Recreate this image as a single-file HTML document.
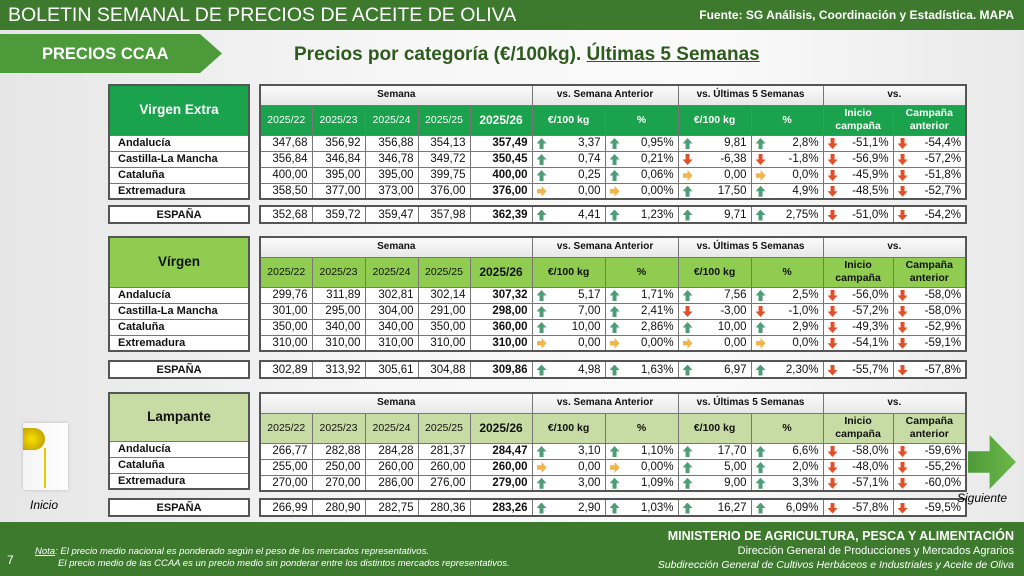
<!DOCTYPE html>
<html><head><meta charset="utf-8"><style>
*{margin:0;padding:0;box-sizing:border-box}
body{width:1024px;height:576px;position:relative;overflow:hidden;font-family:"Liberation Sans",sans-serif;background:linear-gradient(90deg,#e6e6e6 0%,#f7f7f7 40%,#fafafa 70%,#e9e9e9 100%)}
.abs{position:absolute}
table{border-collapse:collapse;position:absolute;table-layout:fixed;border:2px solid #555}
td{border:1px solid #777;font-size:11.5px;height:16px;padding:0 4px;text-align:right;color:#111;background:#fff;white-space:nowrap;line-height:14px}
td.b{font-weight:bold}
td.l{text-align:left;font-weight:bold;font-size:11px;padding-left:8px}
td.c{text-align:center;font-weight:bold;font-size:11px}
tr.h1 td{height:20px;background:linear-gradient(#fafafa,#e8e8e8);text-align:center;font-weight:bold;font-size:10px}
tr.h2 td{height:30px;text-align:center;font-size:10.5px;line-height:13px;padding:0 2px;white-space:normal}
.g1 tr.h2 td{background:#1aa24c;color:#fff}
.g2 tr.h2 td{background:#8fcc4f;color:#111}
.g3 tr.h2 td{background:#c6dca4;color:#111}
td.lab{font-size:13.5px;font-weight:bold;text-align:center;height:50px}
i{display:inline-block;width:10px;height:11px;float:left;margin-top:2px}
i.u{background:#4e9c78;clip-path:polygon(50% 0,100% 50%,70% 50%,70% 100%,30% 100%,30% 50%,0 50%)}
i.d{background:#e0502a;clip-path:polygon(50% 100%,100% 50%,70% 50%,70% 0,30% 0,30% 50%,0 50%)}
i.r{background:#f2b54a;clip-path:polygon(100% 50%,50% 0,50% 30%,0 30%,0 70%,50% 70%,50% 100%)}
</style></head><body>
<div class="abs" style="left:0;top:0;width:1024px;height:30px;background:#3e7a2e"></div>
<div class="abs" style="left:8px;top:4px;color:#fff;font-size:19.5px">BOLETIN SEMANAL DE PRECIOS DE ACEITE DE OLIVA</div>
<div class="abs" style="right:10px;top:8px;color:#fff;font-size:12px;font-weight:bold">Fuente: SG Análisis, Coordinación y Estadística. MAPA</div>
<div class="abs" style="left:0;top:34px;width:222px;height:39px;background:#4c9a3a;clip-path:polygon(0 0,200px 0,222px 50%,200px 100%,0 100%)"></div>
<div class="abs" style="left:42px;top:45px;color:#fff;font-size:16.5px;font-weight:bold">PRECIOS CCAA</div>
<div class="abs" style="left:294px;top:44px;color:#2e5a1e;font-size:19px;font-weight:bold">Precios por categoría (€/100kg). <u>Últimas 5 Semanas</u></div>

<!-- Block 1 -->
<table class="g1" style="left:108px;top:84px;width:142px">
<tr><td class="lab" style="background:#1aa24c;color:#fff">Virgen Extra</td></tr>
<tr><td class="l">Andalucía</td></tr><tr><td class="l">Castilla-La Mancha</td></tr><tr><td class="l">Cataluña</td></tr><tr><td class="l">Extremadura</td></tr></table>
<table class="g1" style="left:259px;top:84px;width:706px">
<colgroup><col style="width:52px"><col style="width:53px"><col style="width:53px"><col style="width:52px"><col style="width:62px"><col style="width:73px"><col style="width:73px"><col style="width:73px"><col style="width:72px"><col style="width:70px"><col style="width:73px"></colgroup>
<tr class="h1"><td colspan="5">Semana</td><td colspan="2">vs. Semana Anterior</td><td colspan="2">vs. Últimas 5 Semanas</td><td colspan="2">vs.</td></tr>
<tr class="h2"><td>2025/22</td><td>2025/23</td><td>2025/24</td><td>2025/25</td><td style="font-weight:bold;font-size:12px">2025/26</td><td><b>€/100 kg</b></td><td><b>%</b></td><td><b>€/100 kg</b></td><td><b>%</b></td><td><b>Inicio campaña</b></td><td><b>Campaña anterior</b></td></tr>
<tr><td>347,68</td><td>356,92</td><td>356,88</td><td>354,13</td><td class="b">357,49</td><td><i class="u"></i>3,37</td><td><i class="u"></i>0,95%</td><td><i class="u"></i>9,81</td><td><i class="u"></i>2,8%</td><td><i class="d"></i>-51,1%</td><td><i class="d"></i>-54,4%</td></tr>
<tr><td>356,84</td><td>346,84</td><td>346,78</td><td>349,72</td><td class="b">350,45</td><td><i class="u"></i>0,74</td><td><i class="u"></i>0,21%</td><td><i class="d"></i>-6,38</td><td><i class="d"></i>-1,8%</td><td><i class="d"></i>-56,9%</td><td><i class="d"></i>-57,2%</td></tr>
<tr><td>400,00</td><td>395,00</td><td>395,00</td><td>399,75</td><td class="b">400,00</td><td><i class="u"></i>0,25</td><td><i class="u"></i>0,06%</td><td><i class="r"></i>0,00</td><td><i class="r"></i>0,0%</td><td><i class="d"></i>-45,9%</td><td><i class="d"></i>-51,8%</td></tr>
<tr><td>358,50</td><td>377,00</td><td>373,00</td><td>376,00</td><td class="b">376,00</td><td><i class="r"></i>0,00</td><td><i class="r"></i>0,00%</td><td><i class="u"></i>17,50</td><td><i class="u"></i>4,9%</td><td><i class="d"></i>-48,5%</td><td><i class="d"></i>-52,7%</td></tr>
</table>
<table style="left:108px;top:205px;width:142px"><tr><td class="c" style="height:17px">ESPAÑA</td></tr></table>
<table style="left:259px;top:205px;width:706px">
<colgroup><col style="width:52px"><col style="width:53px"><col style="width:53px"><col style="width:52px"><col style="width:62px"><col style="width:73px"><col style="width:73px"><col style="width:73px"><col style="width:72px"><col style="width:70px"><col style="width:73px"></colgroup>
<tr><td style="height:17px">352,68</td><td>359,72</td><td>359,47</td><td>357,98</td><td class="b">362,39</td><td><i class="u"></i>4,41</td><td><i class="u"></i>1,23%</td><td><i class="u"></i>9,71</td><td><i class="u"></i>2,75%</td><td><i class="d"></i>-51,0%</td><td><i class="d"></i>-54,2%</td></tr></table>

<!-- Block 2 -->
<table class="g2" style="left:108px;top:236px;width:142px">
<tr><td class="lab" style="background:#8fcc4f">Vírgen</td></tr>
<tr><td class="l">Andalucía</td></tr><tr><td class="l">Castilla-La Mancha</td></tr><tr><td class="l">Cataluña</td></tr><tr><td class="l">Extremadura</td></tr></table>
<table class="g2" style="left:259px;top:236px;width:706px">
<colgroup><col style="width:52px"><col style="width:53px"><col style="width:53px"><col style="width:52px"><col style="width:62px"><col style="width:73px"><col style="width:73px"><col style="width:73px"><col style="width:72px"><col style="width:70px"><col style="width:73px"></colgroup>
<tr class="h1"><td colspan="5">Semana</td><td colspan="2">vs. Semana Anterior</td><td colspan="2">vs. Últimas 5 Semanas</td><td colspan="2">vs.</td></tr>
<tr class="h2"><td>2025/22</td><td>2025/23</td><td>2025/24</td><td>2025/25</td><td style="font-weight:bold;font-size:12px">2025/26</td><td><b>€/100 kg</b></td><td><b>%</b></td><td><b>€/100 kg</b></td><td><b>%</b></td><td><b>Inicio campaña</b></td><td><b>Campaña anterior</b></td></tr>
<tr><td>299,76</td><td>311,89</td><td>302,81</td><td>302,14</td><td class="b">307,32</td><td><i class="u"></i>5,17</td><td><i class="u"></i>1,71%</td><td><i class="u"></i>7,56</td><td><i class="u"></i>2,5%</td><td><i class="d"></i>-56,0%</td><td><i class="d"></i>-58,0%</td></tr>
<tr><td>301,00</td><td>295,00</td><td>304,00</td><td>291,00</td><td class="b">298,00</td><td><i class="u"></i>7,00</td><td><i class="u"></i>2,41%</td><td><i class="d"></i>-3,00</td><td><i class="d"></i>-1,0%</td><td><i class="d"></i>-57,2%</td><td><i class="d"></i>-58,0%</td></tr>
<tr><td>350,00</td><td>340,00</td><td>340,00</td><td>350,00</td><td class="b">360,00</td><td><i class="u"></i>10,00</td><td><i class="u"></i>2,86%</td><td><i class="u"></i>10,00</td><td><i class="u"></i>2,9%</td><td><i class="d"></i>-49,3%</td><td><i class="d"></i>-52,9%</td></tr>
<tr><td>310,00</td><td>310,00</td><td>310,00</td><td>310,00</td><td class="b">310,00</td><td><i class="r"></i>0,00</td><td><i class="r"></i>0,00%</td><td><i class="r"></i>0,00</td><td><i class="r"></i>0,0%</td><td><i class="d"></i>-54,1%</td><td><i class="d"></i>-59,1%</td></tr>
</table>
<table style="left:108px;top:360px;width:142px"><tr><td class="c" style="height:17px">ESPAÑA</td></tr></table>
<table style="left:259px;top:360px;width:706px">
<colgroup><col style="width:52px"><col style="width:53px"><col style="width:53px"><col style="width:52px"><col style="width:62px"><col style="width:73px"><col style="width:73px"><col style="width:73px"><col style="width:72px"><col style="width:70px"><col style="width:73px"></colgroup>
<tr><td style="height:17px">302,89</td><td>313,92</td><td>305,61</td><td>304,88</td><td class="b">309,86</td><td><i class="u"></i>4,98</td><td><i class="u"></i>1,63%</td><td><i class="u"></i>6,97</td><td><i class="u"></i>2,30%</td><td><i class="d"></i>-55,7%</td><td><i class="d"></i>-57,8%</td></tr></table>

<!-- Block 3 -->
<table class="g3" style="left:108px;top:392px;width:142px">
<tr><td class="lab" style="background:#c6dca4;height:48px">Lampante</td></tr>
<tr><td class="l">Andalucía</td></tr><tr><td class="l">Cataluña</td></tr><tr><td class="l">Extremadura</td></tr></table>
<table class="g3" style="left:259px;top:392px;width:706px">
<colgroup><col style="width:52px"><col style="width:53px"><col style="width:53px"><col style="width:52px"><col style="width:62px"><col style="width:73px"><col style="width:73px"><col style="width:73px"><col style="width:72px"><col style="width:70px"><col style="width:73px"></colgroup>
<tr class="h1"><td colspan="5">Semana</td><td colspan="2">vs. Semana Anterior</td><td colspan="2">vs. Últimas 5 Semanas</td><td colspan="2">vs.</td></tr>
<tr class="h2"><td style="height:28px">2025/22</td><td>2025/23</td><td>2025/24</td><td>2025/25</td><td style="font-weight:bold;font-size:12px">2025/26</td><td><b>€/100 kg</b></td><td><b>%</b></td><td><b>€/100 kg</b></td><td><b>%</b></td><td><b>Inicio campaña</b></td><td><b>Campaña anterior</b></td></tr>
<tr><td>266,77</td><td>282,88</td><td>284,28</td><td>281,37</td><td class="b">284,47</td><td><i class="u"></i>3,10</td><td><i class="u"></i>1,10%</td><td><i class="u"></i>17,70</td><td><i class="u"></i>6,6%</td><td><i class="d"></i>-58,0%</td><td><i class="d"></i>-59,6%</td></tr>
<tr><td>255,00</td><td>250,00</td><td>260,00</td><td>260,00</td><td class="b">260,00</td><td><i class="r"></i>0,00</td><td><i class="r"></i>0,00%</td><td><i class="u"></i>5,00</td><td><i class="u"></i>2,0%</td><td><i class="d"></i>-48,0%</td><td><i class="d"></i>-55,2%</td></tr>
<tr><td>270,00</td><td>270,00</td><td>286,00</td><td>276,00</td><td class="b">279,00</td><td><i class="u"></i>3,00</td><td><i class="u"></i>1,09%</td><td><i class="u"></i>9,00</td><td><i class="u"></i>3,3%</td><td><i class="d"></i>-57,1%</td><td><i class="d"></i>-60,0%</td></tr>
</table>
<table style="left:108px;top:498px;width:142px"><tr><td class="c" style="height:17px">ESPAÑA</td></tr></table>
<table style="left:259px;top:498px;width:706px">
<colgroup><col style="width:52px"><col style="width:53px"><col style="width:53px"><col style="width:52px"><col style="width:62px"><col style="width:73px"><col style="width:73px"><col style="width:73px"><col style="width:72px"><col style="width:70px"><col style="width:73px"></colgroup>
<tr><td style="height:17px">266,99</td><td>280,90</td><td>282,75</td><td>280,36</td><td class="b">283,26</td><td><i class="u"></i>2,90</td><td><i class="u"></i>1,03%</td><td><i class="u"></i>16,27</td><td><i class="u"></i>6,09%</td><td><i class="d"></i>-57,8%</td><td><i class="d"></i>-59,5%</td></tr></table>

<!-- bottle -->
<div class="abs" style="left:23px;top:423px;width:45px;height:67px;background:linear-gradient(90deg,#f4f4f4,#fff);box-shadow:0 0 3px #bbb"></div>
<div class="abs" style="left:23px;top:428px;width:22px;height:22px;background:radial-gradient(circle at 40% 50%,#f6e200,#b89000);border-radius:0 50% 50% 0"></div>
<div class="abs" style="left:44px;top:448px;width:2px;height:40px;background:#e8c800"></div>
<div class="abs" style="left:30px;top:498px;font-size:12px;font-style:italic">Inicio</div>
<!-- next arrow -->
<div class="abs" style="left:968px;top:435px;width:48px;height:54px;background:linear-gradient(90deg,#4e9a3a,#6cb84a);clip-path:polygon(0 30%,45% 30%,45% 0,100% 50%,45% 100%,45% 70%,0 70%)"></div>
<div class="abs" style="left:957px;top:491px;font-size:12px;font-style:italic">Siguiente</div>

<!-- footer -->
<div class="abs" style="left:0;top:522px;width:1024px;height:54px;background:#3e7a2e"></div>
<div class="abs" style="left:7px;top:553px;color:#fff;font-size:12px">7</div>
<div class="abs" style="left:35px;top:546px;color:#fff;font-size:9.5px;font-style:italic"><u>Nota</u>: El precio medio nacional es ponderado según el peso de los mercados representativos.</div>
<div class="abs" style="left:58px;top:558px;color:#fff;font-size:9.5px;font-style:italic">El precio medio de las CCAA es un precio medio sin ponderar entre los distintos mercados representativos.</div>
<div class="abs" style="right:10px;top:529px;color:#fff;font-size:12.5px;font-weight:bold">MINISTERIO DE AGRICULTURA, PESCA Y ALIMENTACIÓN</div>
<div class="abs" style="right:10px;top:545px;color:#fff;font-size:11px">Dirección General de Producciones y Mercados Agrarios</div>
<div class="abs" style="right:10px;top:559px;color:#fff;font-size:10.5px;font-style:italic">Subdirección General de Cultivos Herbáceos e Industriales y Aceite de Oliva</div>
</body></html>
